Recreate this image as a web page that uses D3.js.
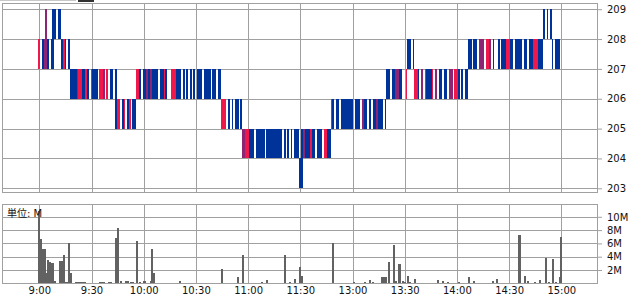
<!DOCTYPE html>
<html><head><meta charset="utf-8">
<script src="https://cdn.jsdelivr.net/npm/d3@7"></script>
<style>
html,body{margin:0;padding:0;background:#fff;}
svg{display:block;}
</style></head><body>
<svg id="c" width="634" height="298"></svg>
<script>
// ---- data ----
const timeTicks  = ["9:00","9:30","10:00","10:30","11:00","11:30","13:00","13:30","14:00","14:30","15:00"];
const priceTicks = [203,204,205,206,207,208,209];
const volTicks   = [2,4,6,8,10];
const volUnit    = "単位: M";

// tick bars: [start time, lower price of the 1-yen step, one char per minute (b=down, r=up, p=mixed, .=none)]
const tickRuns = [
  ["9:00", 207, "r.bppb.bb....brb.b"],
  ["9:04", 208, "p...bb.bb"],
  ["9:18", 206, "bbbbprrbbrb.rbbb.rrp.r.bb.b"],
  ["9:44", 205, "brr.br.br.bb"],
  ["9:56", 206, "rrb.bbpbpbbbb.bbrb..rrrbbb.b.b.b.b.bbb.bbbb.bb.bb"],
  ["10:45",205, "rrr.b.b.bb.b"],
  ["10:57",204, "pprrbbb.bbbbb.bbbbbbbbb.b.b.b.bbb.bpbbbrbb.bbb.rrbb"],
  ["11:30",203, "bb"],
  ["12:48",205, "rb.bb.bbbbbbb.bbb.pbb.b.bbpbbb.b"],
  ["13:20",206, "bb.bbppbb..r....rrb.p.rbbbr.p.bb.bb.pp.rrb.b.bb"],
  ["13:32",207, "bb.b"],
  ["14:07",207, "bb.bb.ppp.rrp.b..b.bbbrrbb.bbbb.bb.bbrrrbbb.....b.bbb"],
  ["14:50",208, "b.b.b"]
];

// volume per minute (millions of shares)
const volTimes = ["9:00","9:01","9:02","9:03","9:04","9:05","9:06","9:07","9:08","9:09","9:12","9:13","9:14","9:15","9:16","9:17","9:18",
  "9:21","9:22","9:23","9:24","9:25","9:26","9:35","9:36","9:37","9:40","9:41","9:44","9:45","9:47","9:50","9:51","9:53","9:54","9:56","9:58",
  "10:00","10:01","10:04","10:05","10:06","10:21","10:45","10:54","10:57","11:08","11:11","11:21","11:24","11:27","11:30","12:31",
  "12:49","13:01","13:07","13:10","13:12","13:17","13:18","13:19","13:21","13:24","13:25","13:27","13:29","13:30","13:32","13:33","13:36",
  "13:49","13:52","13:55","14:01","14:07","14:10","14:21","14:23","14:36","14:39","14:41","14:45","14:48","14:51","14:53","14:55","14:57","14:59","15:00"];
const volValues = [10.8,6.6,5.2,5.2,1.5,3.5,3.2,3.0,3.0,0.3,3.3,3.3,4.2,0.2,0.2,6.0,1.5,
  0.2,0.2,0.2,0.2,0.2,0.2,0.15,0.2,0.2,0.2,0.2,6.8,8.3,0.4,0.3,0.3,0.2,0.2,6.4,0.15,
  0.3,0.3,0.3,5.1,1.6,0.4,2.2,1.0,4.2,0.2,0.5,4.2,0.25,0.65,2.4,1.15,
  6.1,0.15,0.15,0.5,0.25,1.0,1.0,0.9,3.2,5.8,0.3,2.9,0.4,0.25,1.15,0.15,0.6,
  0.5,0.4,0.15,0.15,0.9,0.4,0.3,0.6,7.2,1.15,0.35,0.2,0.55,3.75,0.15,3.6,0.25,0.9,6.9];

// ---- layout ----
const FONT = '"DejaVu Sans","Noto Sans CJK JP",sans-serif';
const L = 2.5, R = 597.5;
const pTop = 3.5, pBot = 192.5, vTop = 204.5, vBot = 283.5;
const GRID = "#a0a0a0";
const COLORS = {b:"#00339a", r:"#f0174a", p:"#8c2573"};

// trading minutes: 9:00 -> 0, 11:30 / 12:30 -> 150, 15:00 -> 300
function toMin(t){
  const [h, m] = t.split(":").map(Number);
  const v = h*60 + m;
  return v <= 690 ? v - 540 : v - 750 + 150;
}

const x  = d3.scaleLinear().domain([0, 300]).range([39.3, 561.3]);
const yP = d3.scaleLinear().domain([203, 209]).range([188.3, 9.2]);
const yV = d3.scaleLinear().domain([0, 10]).range([283.3, 216.8]);

const svg = d3.select("#c");

// decoration at the very top-left (cut-off control)
svg.append("line").attr("x1",0).attr("x2",76).attr("y1",0.5).attr("y2",0.5).attr("stroke","#c8c8c8");
svg.append("rect").attr("x",78).attr("y",0).attr("width",16).attr("height",2).attr("fill","#333");

// gridlines
const gGrid = svg.append("g").attr("stroke", GRID).attr("stroke-width", 1).attr("shape-rendering","crispEdges");
priceTicks.forEach(v => {
  const y = Math.round(yP(v)) + 0.5;
  gGrid.append("line").attr("x1",L).attr("x2",R).attr("y1",y).attr("y2",y);
});
volTicks.forEach(v => {
  const y = Math.round(yV(v)) + 0.5;
  gGrid.append("line").attr("x1",L).attr("x2",R).attr("y1",y).attr("y2",y);
});
timeTicks.forEach(t => {
  const xx = Math.round(x(toMin(t))) + 0.5;
  gGrid.append("line").attr("x1",xx).attr("x2",xx).attr("y1",pTop).attr("y2",pBot);
  gGrid.append("line").attr("x1",xx).attr("x2",xx).attr("y1",vTop).attr("y2",vBot);
});

// tick bars
const bars = [];
tickRuns.forEach(([start, level, pat]) => {
  const m0 = toMin(start);
  for (let i = 0; i < pat.length; i++) {
    const c = pat[i];
    if (c === ".") continue;
    bars.push({m: m0 + i, level, c});
  }
});
svg.append("g").attr("shape-rendering","crispEdges")
  .selectAll("rect").data(bars).join("rect")
  .attr("x", d => x(d.m - 0.5))
  .attr("width", d => x(d.m + 0.5) - x(d.m - 0.5))
  .attr("y", d => yP(d.level + 1))
  .attr("height", d => yP(d.level) - yP(d.level + 1))
  .attr("fill", d => COLORS[d.c]);

// volume bars
const vols = volTimes.map((t, i) => ({m: toMin(t), v: volValues[i]}));
svg.append("g").attr("shape-rendering","crispEdges")
  .selectAll("rect").data(vols).join("rect")
  .attr("x", d => x(d.m - 0.6))
  .attr("width", d => x(d.m + 0.6) - x(d.m - 0.6))
  .attr("y", d => yV(d.v))
  .attr("height", d => yV(0) - yV(d.v))
  .attr("fill", "#626262");

// panel borders
const gB = svg.append("g").attr("fill","none").attr("stroke",GRID).attr("shape-rendering","crispEdges");
gB.append("rect").attr("x",L).attr("y",pTop).attr("width",R-L).attr("height",pBot-pTop);
gB.append("rect").attr("x",L).attr("y",vTop).attr("width",R-L).attr("height",vBot-vTop);

// axes
function styleAxis(g){
  g.attr("font-family", FONT).attr("font-size", 10);
  g.select(".domain").remove();
  g.selectAll(".tick line").attr("stroke", GRID);
  g.selectAll(".tick text").attr("fill", "#111");
}
svg.append("g").attr("transform", `translate(${R - 0.5},0)`)
  .call(d3.axisRight(yP).tickValues(priceTicks).tickFormat(d3.format("d")).tickSize(5).tickPadding(5))
  .call(styleAxis);
svg.append("g").attr("transform", `translate(${R - 0.5},0)`)
  .call(d3.axisRight(yV).tickValues(volTicks).tickFormat(d => d + "M").tickSize(5).tickPadding(5))
  .call(styleAxis);
svg.append("g").attr("transform", `translate(0,${vBot})`)
  .call(d3.axisBottom(x).tickValues(timeTicks.map(toMin)).tickFormat((d, i) => timeTicks[i]).tickSize(0).tickPadding(3.5))
  .call(styleAxis);

// unit label
svg.append("text").attr("x", 7).attr("y", 216.5)
  .attr("font-family", FONT).attr("font-size", 10).attr("fill", "#111")
  .text(volUnit);
</script>
</body></html>
